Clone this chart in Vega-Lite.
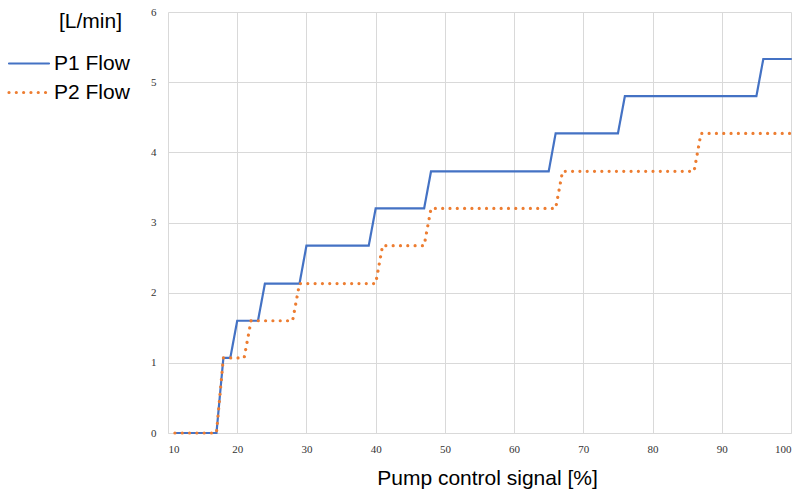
{
  "$schema": "https://vega.github.io/schema/vega-lite/v6.json",
  "width": 623,
  "height": 421,
  "autosize": {"type": "none"},
  "padding": {"left": 168, "top": 12, "right": 13, "bottom": 59},
  "background": "white",
  "config": {"view": {"stroke": null}},
  "data": {
    "values": [
      {"x": 11, "y": 0, "s": "P1 Flow"}, {"x": 17, "y": 0, "s": "P1 Flow"},
      {"x": 18, "y": 1.07, "s": "P1 Flow"}, {"x": 19, "y": 1.07, "s": "P1 Flow"},
      {"x": 20, "y": 1.6, "s": "P1 Flow"}, {"x": 23, "y": 1.6, "s": "P1 Flow"},
      {"x": 24, "y": 2.13, "s": "P1 Flow"}, {"x": 29, "y": 2.13, "s": "P1 Flow"},
      {"x": 30, "y": 2.67, "s": "P1 Flow"}, {"x": 39, "y": 2.67, "s": "P1 Flow"},
      {"x": 40, "y": 3.2, "s": "P1 Flow"}, {"x": 47, "y": 3.2, "s": "P1 Flow"},
      {"x": 48, "y": 3.73, "s": "P1 Flow"}, {"x": 65, "y": 3.73, "s": "P1 Flow"},
      {"x": 66, "y": 4.27, "s": "P1 Flow"}, {"x": 75, "y": 4.27, "s": "P1 Flow"},
      {"x": 76, "y": 4.8, "s": "P1 Flow"}, {"x": 95, "y": 4.8, "s": "P1 Flow"},
      {"x": 96, "y": 5.33, "s": "P1 Flow"}, {"x": 100, "y": 5.33, "s": "P1 Flow"},
      {"x": 11, "y": 0, "s": "P2 Flow"}, {"x": 17, "y": 0, "s": "P2 Flow"},
      {"x": 18, "y": 1.07, "s": "P2 Flow"}, {"x": 21, "y": 1.07, "s": "P2 Flow"},
      {"x": 22, "y": 1.6, "s": "P2 Flow"}, {"x": 28, "y": 1.6, "s": "P2 Flow"},
      {"x": 29, "y": 2.13, "s": "P2 Flow"}, {"x": 40, "y": 2.13, "s": "P2 Flow"},
      {"x": 41, "y": 2.67, "s": "P2 Flow"}, {"x": 47, "y": 2.67, "s": "P2 Flow"},
      {"x": 48, "y": 3.2, "s": "P2 Flow"}, {"x": 66, "y": 3.2, "s": "P2 Flow"},
      {"x": 67, "y": 3.73, "s": "P2 Flow"}, {"x": 86, "y": 3.73, "s": "P2 Flow"},
      {"x": 87, "y": 4.27, "s": "P2 Flow"}, {"x": 100, "y": 4.27, "s": "P2 Flow"}
    ]
  },
  "mark": {"type": "line", "strokeCap": "round", "strokeJoin": "miter"},
  "encoding": {
    "x": {
      "field": "x", "type": "quantitative",
      "scale": {"domain": [10, 100], "nice": false, "zero": false},
      "axis": {
        "values": [10, 20, 30, 40, 50, 60, 70, 80, 90, 100],
        "title": "Pump control signal [%]",
        "titleFont": "Liberation Sans", "titleFontSize": 21, "titleFontWeight": "normal",
        "titleColor": "#000000", "titlePadding": 13, "titleX": 319, "titleAlign": "center",
        "labelFont": "Liberation Serif", "labelFontSize": 11, "labelColor": "#333333",
        "labelPadding": 10, "ticks": false, "domain": true, "domainColor": "#d9d9d9",
        "grid": true, "gridColor": "#d9d9d9", "gridWidth": 1
      }
    },
    "y": {
      "field": "y", "type": "quantitative",
      "scale": {"domain": [0, 6], "nice": false},
      "axis": {
        "values": [0, 1, 2, 3, 4, 5, 6],
        "title": "[L/min]", "titleAngle": 0, "titleX": -78, "titleY": 9,
        "titleAlign": "center", "titleBaseline": "middle",
        "titleFont": "Liberation Sans", "titleFontSize": 21, "titleFontWeight": "normal",
        "titleColor": "#000000",
        "labelFont": "Liberation Serif", "labelFontSize": 11, "labelColor": "#333333",
        "labelPadding": 12, "ticks": false, "domain": false,
        "grid": true, "gridColor": "#d9d9d9", "gridWidth": 1
      }
    },
    "color": {
      "field": "s", "type": "nominal",
      "scale": {"domain": ["P1 Flow", "P2 Flow"], "range": ["#4472C4", "#ED7D31"]},
      "legend": {
        "title": null, "orient": "none", "legendX": -161, "legendY": 41,
        "padding": 0,
        "symbolType": "stroke", "symbolSize": 1600, "symbolStrokeWidth": 2.5,
        "labelFont": "Liberation Sans", "labelFontSize": 21, "labelColor": "#000000",
        "labelOffset": 3, "rowPadding": 7, "clipHeight": 21,
        "encode": {"symbols": {"update": {"strokeCap": {"value": "round"}}}}
      }
    },
    "strokeDash": {
      "field": "s", "type": "nominal",
      "scale": {"domain": ["P1 Flow", "P2 Flow"], "range": [[1, 0], [0.01, 7.3]]},
      "legend": null
    },
    "strokeWidth": {
      "field": "s", "type": "nominal",
      "scale": {"domain": ["P1 Flow", "P2 Flow"], "range": [2.2, 3.2]},
      "legend": null
    }
  }
}
